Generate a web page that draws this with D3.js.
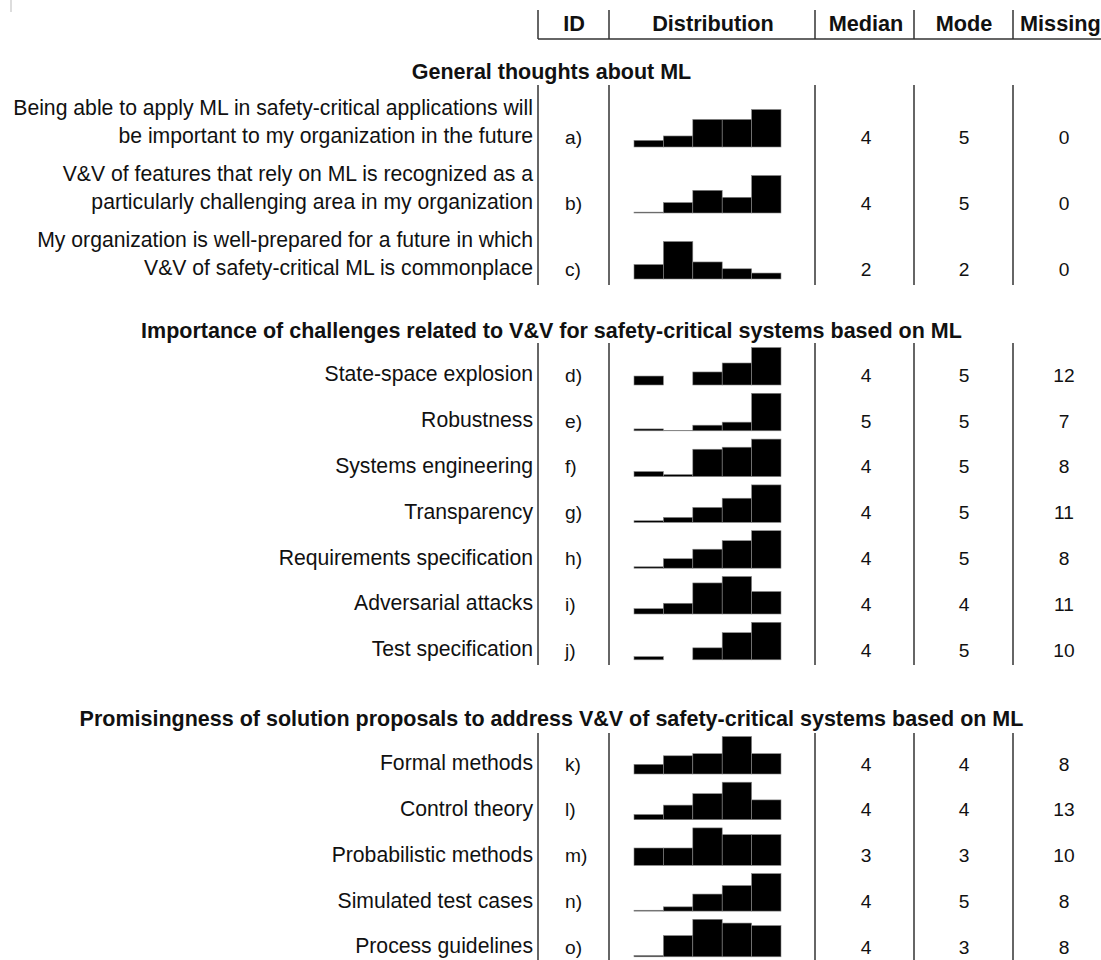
<!doctype html>
<html lang="en">
<head>
<meta charset="utf-8">
<style>
  body { margin: 0; background: #fff; }
  text { font-family: "Liberation Sans", Arial, sans-serif; fill: #111; }
</style>
</head>
<body>
<script src="https://cdnjs.cloudflare.com/ajax/libs/d3/7.8.5/d3.min.js"></script>
<div id="chart"></div>
<script>
  var sections = [
    "General thoughts about ML",
    "Importance of challenges related to V&V for safety-critical systems based on ML",
    "Promisingness of solution proposals to address V&V of safety-critical systems based on ML"
  ];
  var columns = ["ID", "Distribution", "Median", "Mode", "Missing"];
  var ids = ["a)", "b)", "c)", "d)", "e)", "f)", "g)", "h)", "i)", "j)", "k)", "l)", "m)", "n)", "o)"];
  var labels = [
    ["Being able to apply ML in safety-critical applications will", "be important to my organization in the future"],
    ["V&V of features that rely on ML is recognized as a", "particularly challenging area in my organization"],
    ["My organization is well-prepared for a future in which", "V&V of safety-critical ML is commonplace"],
    ["State-space explosion"],
    ["Robustness"],
    ["Systems engineering"],
    ["Transparency"],
    ["Requirements specification"],
    ["Adversarial attacks"],
    ["Test specification"],
    ["Formal methods"],
    ["Control theory"],
    ["Probabilistic methods"],
    ["Simulated test cases"],
    ["Process guidelines"]
  ];
  var sectionOf = [0, 0, 0, 1, 1, 1, 1, 1, 1, 1, 2, 2, 2, 2, 2];
  // answer shares (%) for levels 1..5
  var levels = [1, 2, 3, 4, 5];
  var dist = [
    [6, 10, 25, 25, 34],
    [1, 12, 26, 18, 43],
    [17, 44, 20, 12, 7],
    [11, 0, 16, 27, 46],
    [3.5, 0.7, 10.4, 16, 69.4],
    [5, 2, 27, 29, 37],
    [2, 6, 18, 29, 45],
    [1.5, 10, 20, 29, 39.5],
    [5, 10, 29, 35, 21],
    [4, 0, 15, 34, 47],
    [9, 17, 19, 35, 19],
    [5, 14, 25, 36, 19],
    [13, 13, 28, 23, 23],
    [1, 5, 20, 30, 44],
    [1, 17, 30, 27, 25]
  ];
  var medians = [4, 4, 2, 4, 5, 4, 4, 4, 4, 4, 4, 4, 3, 4, 4];
  var modes = [5, 5, 2, 5, 5, 5, 5, 5, 4, 5, 4, 4, 3, 5, 3];
  var missing = [0, 0, 0, 12, 7, 8, 11, 8, 11, 10, 8, 13, 10, 8, 8];

  var width = 1101, height = 960;
  var fs = 21.2;

  // layout
  var colX = { id: 574, dist: 713, median: 866, mode: 964, missing: 1064 };
  var sepX = [538, 609, 815, 914, 1013];
  var secLayout = [
    { title: 71, top: 85, bottom: 285, first: 136, step: 66 },
    { title: 330, top: 343, bottom: 665, first: 374, step: 45.8 },
    { title: 718, top: 733, bottom: 960, first: 763, step: 45.7 }
  ];

  var rowY = ids.map(function(d, i) {
    var s = sectionOf[i];
    var k = i - sectionOf.indexOf(s);
    return secLayout[s].first + k * secLayout[s].step;
  });

  var svg = d3.select("#chart").append("svg")
    .attr("width", width)
    .attr("height", height);

  // little grey mark at the top left
  svg.append("line")
    .attr("x1", 11).attr("x2", 11).attr("y1", 0).attr("y2", 12)
    .attr("stroke", "#ddd").attr("stroke-width", 2);

  // header
  var header = svg.append("g").attr("class", "header");
  var headX = [colX.id, colX.dist, colX.median, colX.mode, 1020];
  header.selectAll("text").data(columns).enter()
    .append("text")
    .attr("x", function(d, i) { return headX[i]; })
    .attr("y", 23)
    .attr("dy", "0.35em")
    .attr("text-anchor", function(d, i) { return i == 4 ? "start" : "middle"; })
    .style("font-size", (fs + 0.5) + "px")
    .style("font-weight", "bold")
    .text(function(d) { return d; });
  header.selectAll("line").data(sepX).enter()
    .append("line")
    .attr("x1", function(d) { return d; })
    .attr("x2", function(d) { return d; })
    .attr("y1", 10).attr("y2", 39)
    .attr("stroke", "#333").attr("stroke-width", 1.5);
  header.append("line")
    .attr("x1", sepX[0]).attr("x2", width)
    .attr("y1", 39).attr("y2", 39)
    .attr("stroke", "#333").attr("stroke-width", 1.5);

  // section titles and column rules
  secLayout.forEach(function(s, i) {
    svg.append("text")
      .attr("x", 551.5)
      .attr("y", s.title)
      .attr("dy", "0.35em")
      .attr("text-anchor", "middle")
      .style("font-size", (fs + 0.3) + "px")
      .style("font-weight", "bold")
      .text(sections[i]);
    svg.append("g").selectAll("line").data(sepX).enter()
      .append("line")
      .attr("x1", function(d) { return d; })
      .attr("x2", function(d) { return d; })
      .attr("y1", s.top).attr("y2", s.bottom)
      .attr("stroke", "#333").attr("stroke-width", 1.5);
  });

  // rows
  var xBar = d3.scaleBand().domain(levels).range([634, 781]).paddingInner(0);
  var barMax = 37.5;

  var rows = svg.append("g").selectAll("g").data(ids).enter()
    .append("g")
    .attr("class", "row");

  rows.each(function(d, i) {
    var g = d3.select(this);
    var y = rowY[i];
    var lab = labels[i];
    lab.forEach(function(line, j) {
      g.append("text")
        .attr("x", 533)
        .attr("y", y - (lab.length - 1 - j) * 28)
        .attr("dy", "0.35em")
        .attr("text-anchor", "end")
        .style("font-size", fs + "px")
        .text(line);
    });
    var cells = [[colX.id, ids[i]], [colX.median, medians[i]], [colX.mode, modes[i]], [colX.missing, missing[i]]];
    cells.forEach(function(c, j) {
      g.append("text")
        .attr("x", j == 0 ? c[0] - 9 : c[0])
        .attr("y", y + 1)
        .attr("dy", "0.35em")
        .attr("text-anchor", j == 0 ? "start" : "middle")
        .style("font-size", (fs - 2) + "px")
        .text(c[1]);
    });

    var yScale = d3.scaleLinear().domain([0, d3.max(dist[i])]).range([0, barMax]);
    var base = y + 11;
    var bars = levels.map(function(l, k) { return { level: l, value: dist[i][k] }; })
      .filter(function(b) { return b.value > 0; });
    g.append("g").selectAll("rect").data(bars).enter()
      .append("rect")
      .attr("x", function(b) { return xBar(b.level); })
      .attr("y", function(b) { return base - yScale(b.value); })
      .attr("width", xBar.bandwidth())
      .attr("height", function(b) { return yScale(b.value); })
      .attr("fill", "#000")
      .attr("stroke", "#888")
      .attr("stroke-width", 0.6);
  });
</script>
</body>
</html>
